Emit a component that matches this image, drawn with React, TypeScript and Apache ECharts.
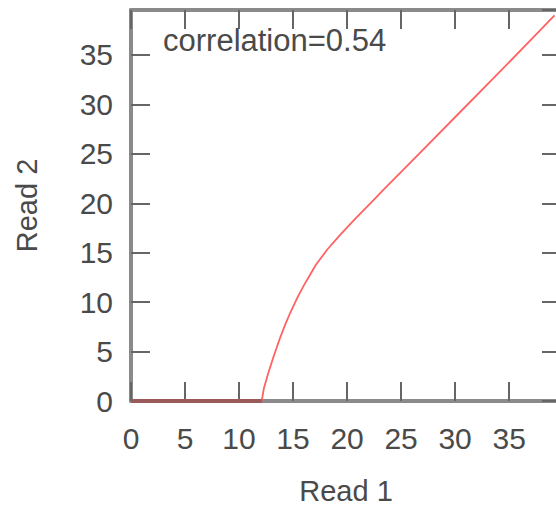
import React, { useEffect, useRef } from "react";
import * as echarts from "echarts";

// Read 1 vs Read 2 curve samples
const read1: number[] = [0, 12.1, 12.3, 12.7, 13.2, 13.8, 14.3, 14.75, 15.4, 16.0, 17.1, 18.15, 19.4, 20.9, 22.2, 23.4, 26.2, 29.9, 33.6, 37.3, 39.2];
const read2: number[] = [0, 0, 1.3, 2.8, 4.5, 6.4, 7.8, 8.95, 10.45, 11.7, 13.75, 15.3, 16.85, 18.6, 20.05, 21.4, 24.5, 28.6, 32.7, 36.85, 39.0];
const correlationText = "correlation=0.54";
const xName = "Read 1";
const yName = "Read 2";

const FONT = "'Liberation Sans', Arial, sans-serif";
const AXIS_GRAY = "#8a8a8a";
const TICK_GRAY = "#666666";
const LABEL_GRAY = "#4a4a4a";

export default function App() {
  const ref = useRef<HTMLDivElement>(null);

  useEffect(() => {
    if (!ref.current) return;
    const chart = echarts.init(ref.current, undefined, { renderer: "svg" });

    const points = read1.map((x, i) => [x, read2[i]]);
    const zeroRun = points.filter((p) => p[1] === 0);

    const frameAxis = (pos: string, isX: boolean, showLabel: boolean) => ({
      type: "value" as const,
      position: pos,
      min: 0,
      max: isX ? 39.8 : 39.55,
      interval: 5,
      axisLine: { show: true, onZero: false, lineStyle: { color: AXIS_GRAY, width: 4 } },
      axisTick: { show: true, inside: true, length: 19, lineStyle: { color: TICK_GRAY, width: 2 } },
      axisLabel: {
        show: showLabel,
        color: LABEL_GRAY,
        fontSize: 30,
        fontFamily: FONT,
        margin: isX ? 22 : 18,
        showMaxLabel: false,
      },
      splitLine: { show: false },
    });

    chart.setOption({
      animation: false,
      backgroundColor: "#ffffff",
      grid: {
        left: 131,
        top: 10,
        width: 430,
        height: 391,
        containLabel: false,
        outerBoundsMode: "none",
      },
      xAxis: [
        {
          ...frameAxis("bottom", true, true),
          name: xName,
          nameLocation: "middle",
          nameGap: 75,
          nameTextStyle: { color: LABEL_GRAY, fontSize: 29, fontFamily: FONT },
        },
        frameAxis("top", true, false),
      ],
      yAxis: [
        {
          ...frameAxis("left", false, true),
          name: yName,
          nameLocation: "middle",
          nameGap: 90,
          nameTextStyle: { color: LABEL_GRAY, fontSize: 29, fontFamily: FONT },
        },
        frameAxis("right", false, false),
      ],
      graphic: [
        {
          type: "text",
          x: 163,
          y: 40,
          style: {
            text: correlationText,
            fill: LABEL_GRAY,
            font: `31px ${FONT}`,
            textVerticalAlign: "middle",
          },
        },
      ],
      series: [
        {
          type: "line",
          data: points,
          showSymbol: false,
          symbol: "none",
          lineStyle: { color: "#ff6262", width: 1.8 },
          z: 3,
        },
        {
          type: "line",
          data: zeroRun,
          showSymbol: false,
          symbol: "none",
          lineStyle: { color: "#9a5a5a", width: 4 },
          z: 4,
        },
      ],
    });

    return () => chart.dispose();
  }, []);

  return (
    <div
      ref={ref}
      style={{ position: "absolute", left: 0, top: 0, width: 556, height: 508 }}
    />
  );
}
